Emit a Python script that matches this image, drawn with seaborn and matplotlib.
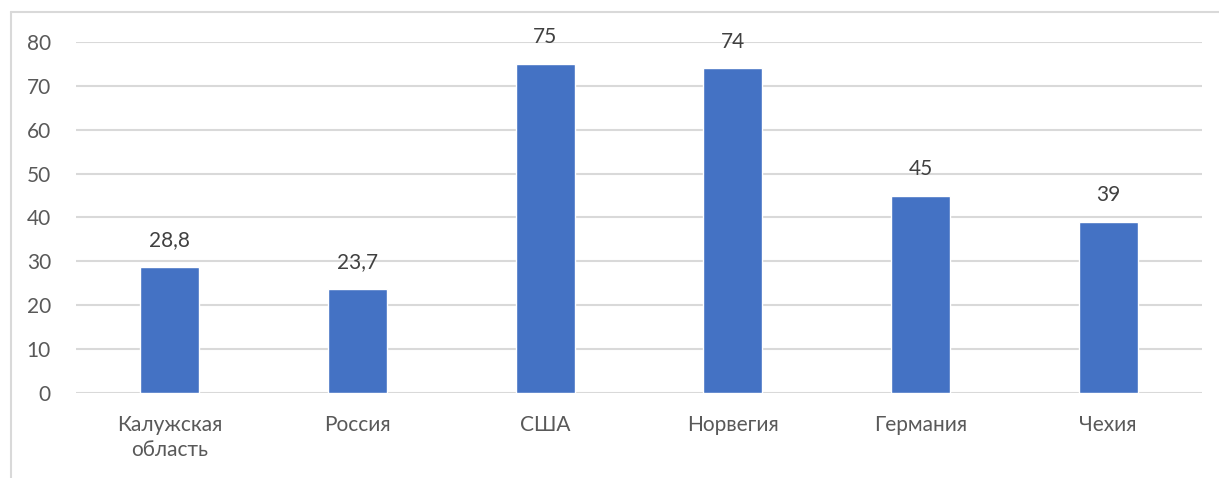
import matplotlib
matplotlib.use('Agg')
import matplotlib.pyplot as plt
import seaborn as sns
import pandas as pd
from matplotlib.lines import Line2D

# данные
regions = ['Калужская\nобласть', 'Россия', 'США', 'Норвегия', 'Германия', 'Чехия']
values = [28.8, 23.7, 75, 74, 45, 39]
labels = ['28,8', '23,7', '75', '74', '45', '39']

df = pd.DataFrame({'region': regions, 'value': values})

sns.set_style('white')
plt.rcParams['font.family'] = ['Lato', 'DejaVu Sans']

fig = plt.figure(figsize=(12.19, 4.78), dpi=100)
ax = fig.add_axes([0.0623, 0.178, 0.9237, 0.734])

sns.barplot(data=df, x='region', y='value', color='#4472C4', saturation=1,
            width=0.315, ax=ax, zorder=3)

for i, (v, t) in enumerate(zip(values, labels)):
    ax.annotate(t, (i, v), xytext=(0, 12), textcoords='offset points',
                ha='center', va='bottom', fontsize=15, color='#404040')

ax.set_ylim(0, 80)
ax.set_xlim(-0.5, 5.5)
ax.set_yticks(range(0, 81, 10))
ax.yaxis.grid(True, color='#d9d9d9', linewidth=1.5, zorder=0)
ax.set_axisbelow(True)
for s in ax.spines.values():
    s.set_visible(False)
ax.tick_params(axis='both', length=0, labelsize=15, labelcolor='#595959')
ax.tick_params(axis='x', pad=16)
ax.tick_params(axis='y', pad=18)
ax.set_xlabel('')
ax.set_ylabel('')
for lab in ax.get_xticklabels():
    lab.set_linespacing(1.3)

# рамка диаграммы (видна только сверху и слева)
fig.add_artist(Line2D([0.009, 1.0], [0.975, 0.975], color='#d9d9d9', linewidth=1.5,
                      transform=fig.transFigure))
fig.add_artist(Line2D([0.009, 0.009], [0.0, 0.975], color='#d9d9d9', linewidth=1.5,
                      transform=fig.transFigure))

fig.savefig('out.png', dpi=100)
